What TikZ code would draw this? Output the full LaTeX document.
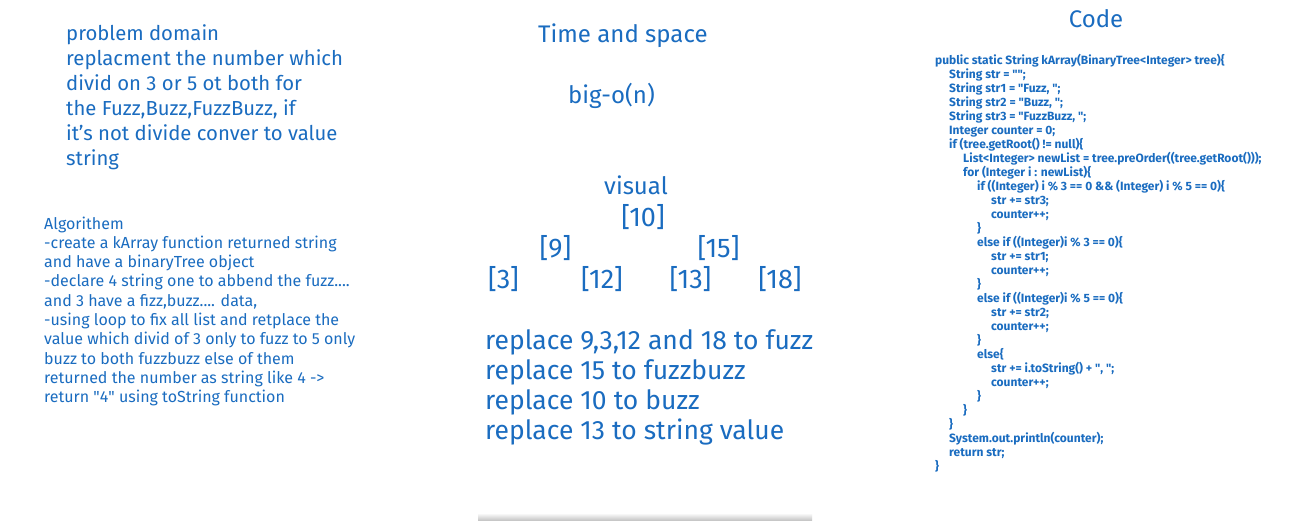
\documentclass[tikz,border=0pt]{standalone}
\usepackage{fontspec}
\setmainfont{Fira Sans}
\definecolor{ink}{RGB}{26,108,192}
\newcommand{\qq}{\textquotedbl}
\begin{document}
\begin{tikzpicture}[x=1pt,y=-1pt,
  txt/.style={anchor=base west,inner sep=0pt,text=ink},
  ctxt/.style={anchor=base,inner sep=0pt,text=ink},
  big/.style={font=\fontsize{20.3}{24}\selectfont},
  alg/.style={font=\fontsize{16}{18}\selectfont},
  mid/.style={font=\fontsize{24}{26}\selectfont},
  brk/.style={font=\fontsize{27}{30}\selectfont},
  rep/.style={font=\fontsize{26.5}{30}\selectfont},
  code/.style={font=\fontsize{12}{14}\selectfont\bfseries}]
\useasboundingbox (0,0) rectangle (1300,520);
\fill[white] (0,0) rectangle (1300,520);
% bottom shadow
\shade[top color=white,bottom color=black!22] (478,513) rectangle (812,520);
% problem domain
\foreach \t [count=\i] in {{problem domain},{replacment the number which},{divid on 3 or 5 ot both for},{the Fuzz,Buzz,FuzzBuzz, if},{it's not divide conver to value},{string}}
  \node[txt,big] (pd\i) at (66,{33+25*(\i-1)+7.2}) {\t};
% algorithm
\node[txt,alg] (al1) at (44,{223+19.33*0+6}) {Algorithem};
\node[txt,alg] (al2) at (44,{223+19.33*1+6}) {-create a kArray function returned string};
\node[txt,alg] (al3) at (44,{223+19.33*2+6}) {and have a binaryTree object};
\node[txt,alg] (al4) at (44,{223+19.33*3+6}) {-declare 4 string one to abbend the fuzz....};
\node[txt,alg] (al5) at (44,{223+19.33*4+6}) {and 3 have a fizz,buzz.... data,};
\node[txt,alg] (al6) at (44,{223+19.33*5+6}) {-using loop to fix all list and retplace the};
\node[txt,alg] (al7) at (44,{223+19.33*6+6}) {value which divid of 3 only to fuzz to 5 only};
\node[txt,alg] (al8) at (44,{223+19.33*7+6}) {buzz to both fuzzbuzz else of them};
\node[txt,alg] (al9) at (44,{223+19.33*8+6}) {returned the number as string like 4 ->};
\node[txt,alg] (al10) at (44,{223+19.33*9+6}) {return \qq4\qq{} using toString function};
% time and space
\node[txt,mid] (ts) at (538,{34+8}) {Time and space};
\node[txt,mid] (bo) at (568,{95+8}) {big-o(n)};
\node[txt,mid] (vis) at (604,{186+8.5}) {visual};
\node[ctxt,brk] (n10) at (643,{217+9}) {[10]};
\node[ctxt,brk] (n9) at (555.5,{248+9}) {[9]};
\node[ctxt,brk] (n15) at (718.5,{248+9}) {[15]};
\node[ctxt,brk] (n3) at (503.5,{279+9}) {[3]};
\node[ctxt,brk] (n12) at (602,{279+9}) {[12]};
\node[ctxt,brk] (n13) at (690.5,{279+9}) {[13]};
\node[ctxt,brk] (n18) at (780,{279+9}) {[18]};
\foreach \t [count=\i] in {{replace 9,3,12 and 18 to fuzz},{replace 15 to fuzzbuzz},{replace 10 to buzz},{replace 13 to string value}}
  \node[txt,rep] (rp\i) at (485,{340+30*(\i-1)+9}) {\t};
% code
\node[ctxt,mid] (codet) at (1096,{19+8}) {Code};
\foreach \l/\t [count=\i] in {
 0/{public static String kArray(BinaryTree<Integer> tree)\{},
 1/{String str = \qq\qq;},
 1/{String str1 = \qq Fuzz, \qq;},
 1/{String str2 = \qq Buzz, \qq;},
 1/{String str3 = \qq FuzzBuzz, \qq;},
 1/{Integer counter = 0;},
 1/{if (tree.getRoot() != null)\{},
 2/{List<Integer> newList = tree.preOrder((tree.getRoot()));},
 2/{for (Integer i : newList)\{},
 3/{if ((Integer) i \% 3 == 0 \&\& (Integer) i \% 5 == 0)\{},
 4/{str += str3;},
 4/{counter++;},
 3/{\}},
 3/{else if ((Integer)i \% 3 == 0)\{},
 4/{str += str1;},
 4/{counter++;},
 3/{\}},
 3/{else if ((Integer)i \% 5 == 0)\{},
 4/{str += str2;},
 4/{counter++;},
 3/{\}},
 3/{else\{},
 4/{str += i.toString() + \qq, \qq;},
 4/{counter++;},
 3/{\}},
 2/{\}},
 1/{\}},
 1/{System.out.println(counter);},
 1/{return str;},
 0/{\}}}
  \node[txt,code] (c\i) at ({935+14*\l},{59+14.03*(\i-1)+5}) {\t};
\end{tikzpicture}
\end{document}
